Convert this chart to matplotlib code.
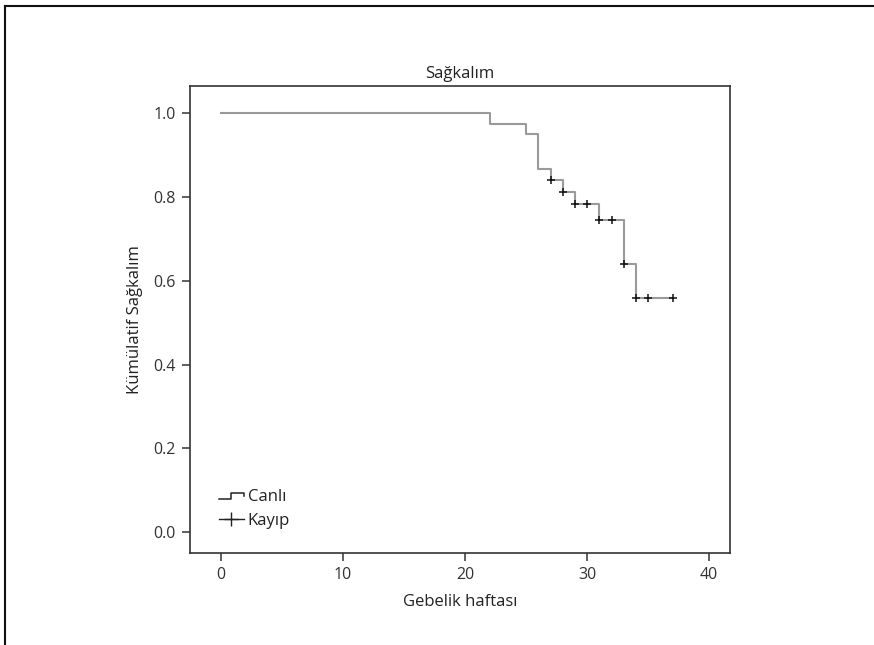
import numpy as np
import matplotlib.pyplot as plt
from matplotlib.lines import Line2D
from matplotlib.legend_handler import HandlerBase

plt.rcParams['font.family'] = ['Open Sans', 'DejaVu Sans']

# step survival curve (Kaplan-Meier style)
times = [0, 22, 25, 26, 27, 28, 29, 31, 33, 34, 37]
surv = [1.0, 0.974, 0.950, 0.866, 0.840, 0.811, 0.783, 0.746, 0.640, 0.559, 0.559]

# censored observations
cens_t = [27, 28, 29, 30, 31, 32, 33, 34, 35, 37]
cens_s = [0.840, 0.811, 0.783, 0.783, 0.746, 0.746, 0.640, 0.559, 0.559, 0.559]


class StepHandler(HandlerBase):
    def create_artists(self, legend, orig, xd, yd, w, h, fontsize, trans):
        xs = [xd, xd + w * 0.5, xd + w * 0.5, xd + w, xd + w]
        ys = [yd + h * 0.2, yd + h * 0.2, yd + h * 0.7, yd + h * 0.7, yd + h * 0.45]
        ln = Line2D(xs, ys, color='#222222', lw=1.1, transform=trans)
        return [ln]


fig = plt.figure(figsize=(8.74, 6.45), dpi=100)
ax = fig.add_axes([0.2174, 0.1426, 0.6178, 0.7240])

ax.step(times, surv, where='post', color='#9a9a9a', lw=1.5)
ax.plot(cens_t, cens_s, '+', color='#111111', ms=5.5, mew=1.1)

ax.set_xlim(-2.55, 41.7)
ax.set_ylim(-0.05, 1.065)
ax.set_xticks([0, 10, 20, 30, 40])
ax.set_yticks([0.0, 0.2, 0.4, 0.6, 0.8, 1.0])
ax.set_yticklabels(['0.0', '0.2', '0.4', '0.6', '0.8', '1.0'])
ax.tick_params(direction='out', length=6, width=1.1, color='#333333',
               labelsize=11.5, labelcolor='#333333', pad=4)
for s in ax.spines.values():
    s.set_color('#333333')
    s.set_linewidth(1.2)

ax.set_title('Sağkalım', fontsize=12, color='#222222', pad=6)
ax.set_xlabel('Gebelik haftası', fontsize=12, color='#222222', labelpad=8)
ax.set_ylabel('Kümülatif Sağkalım', fontsize=12, color='#222222', labelpad=8)

h1 = Line2D([], [], color='#222222')
h2 = Line2D([], [], color='#222222', marker='+', ms=10, mew=1.0, lw=1.0)
ax.legend([h1, h2], ['Canlı', 'Kayıp'], loc='lower left', frameon=False,
          handler_map={h1: StepHandler()}, fontsize=12, handlelength=1.5,
          handletextpad=0.25, labelspacing=0.45, bbox_to_anchor=(0.025, 0.02),
          labelcolor='#222222')

# outer frame (top and left edge only)
fig.add_artist(Line2D([0.006, 1.0], [0.991, 0.991], color='#111111', lw=1.5,
                      transform=fig.transFigure))
fig.add_artist(Line2D([0.006, 0.006], [0.0, 0.991], color='#111111', lw=1.5,
                      transform=fig.transFigure))

fig.savefig('out.png', dpi=100)
